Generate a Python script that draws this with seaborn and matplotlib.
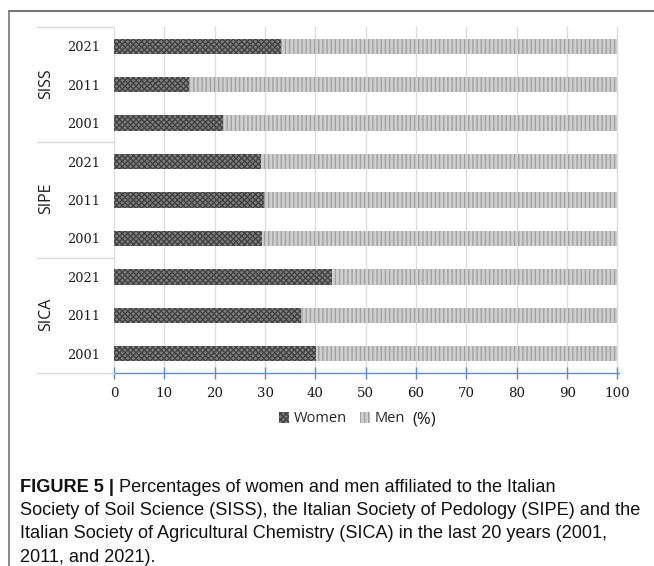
import matplotlib
matplotlib.use("Agg")
import matplotlib.pyplot as plt
import seaborn as sns
import pandas as pd
from matplotlib.lines import Line2D
from matplotlib.patches import Patch

# ---- data (top to bottom) ----
societies = ["SISS", "SISS", "SISS", "SIPE", "SIPE", "SIPE", "SICA", "SICA", "SICA"]
years = ["2021", "2011", "2001", "2021", "2011", "2001", "2021", "2011", "2001"]
women = [33.2, 14.9, 21.6, 29.1, 29.8, 29.4, 43.3, 37.2, 40.1]
men = [100 - w for w in women]
group_names = ["SISS", "SIPE", "SICA"]
xticks = [0, 10, 20, 30, 40, 50, 60, 70, 80, 90, 100]

keys = [f"{s} {y}" for s, y in zip(societies, years)]
df = pd.DataFrame({"key": keys, "year": years, "women": women, "men": men})
df["total"] = df["women"] + df["men"]

W, H = 654, 566
fig = plt.figure(figsize=(W / 100, H / 100), dpi=100)
sns.set_style("white")
plt.rcParams["hatch.linewidth"] = 1.0

ax = fig.add_axes([114 / W, 1 - 373 / H, 505 / W, 346 / H])

WOMEN_FACE, WOMEN_HATCH = "#808080", "#424242"
MEN_FACE, MEN_HATCH = "#d0d0d0", "#a0a0a0"

sns.barplot(data=df, y="key", x="total", order=keys, orient="h", ax=ax,
            color=MEN_FACE, width=0.4, saturation=1, edgecolor="none", errorbar=None)
sns.barplot(data=df, y="key", x="women", order=keys, orient="h", ax=ax,
            color=WOMEN_FACE, width=0.4, saturation=1, edgecolor="none", errorbar=None)

n = len(keys)
for i, p in enumerate(ax.patches):
    if i < n:
        p.set_hatch("||||")
        p.set_edgecolor(MEN_HATCH)
    else:
        p.set_hatch("xxxxxx")
        p.set_edgecolor(WOMEN_HATCH)
    p.set_linewidth(0)

ax.set_xlim(0, 100.3)
ax.set_ylim(n - 0.5, -0.5)
ax.set_xticks(xticks)
ax.set_xticklabels([str(t) for t in xticks], family="DejaVu Serif", fontsize=9.6, color="#1a1a1a")
ax.set_yticks(range(n))
ax.set_yticklabels(years, family="DejaVu Serif", fontsize=9.3, color="#1a1a1a")
ax.tick_params(axis="y", left=False, length=0, pad=10)
ax.tick_params(axis="x", bottom=True, length=8, direction="inout", color="#5b8fd0", width=1, pad=6)
ax.set_xlabel("")
ax.set_ylabel("")
for s in ["top", "right", "left"]:
    ax.spines[s].set_visible(False)
ax.spines["bottom"].set_color("#5b8fd0")
ax.spines["bottom"].set_linewidth(1)
ax.set_axisbelow(True)
ax.grid(axis="x", color="#dcdcdc", linewidth=1)
ax.grid(axis="y", visible=False)


def fx(px):
    return px / W


def fy(py):
    return 1 - py / H


# group separators and labels (left of axes)
for y in [27, 141.5, 257.5, 373]:
    fig.add_artist(Line2D([fx(37), fx(114)], [fy(y), fy(y)], color="#d9d9d9", lw=1))
group_centers = [84, 198, 314]
for g, yc in zip(group_names, group_centers):
    fig.text(fx(46), fy(yc), g, rotation=90, ha="center", va="center",
             fontsize=11.5, family="Open Sans", color="#1a1a1a")

# legend
handles = [Patch(facecolor=WOMEN_FACE, edgecolor=WOMEN_HATCH, hatch="xxxxxx", linewidth=0, label="Women"),
           Patch(facecolor=MEN_FACE, edgecolor=MEN_HATCH, hatch="||||", linewidth=0, label="Men")]
fig.legend(handles=handles, loc="center", bbox_to_anchor=(fx(342), fy(419)), ncol=2,
           frameon=False, handlelength=0.7, handleheight=0.7,
           handletextpad=0.3, columnspacing=0.9, prop={"family": "Open Sans", "size": 10.5})
fig.text(fx(424), fy(420), "(%)", ha="center", va="center", fontsize=12,
         family="Open Sans", color="#1a1a1a")

# frame
fig.add_artist(Line2D([fx(9), 1], [fy(11), fy(11)], color="#777777", lw=1.5))
fig.add_artist(Line2D([fx(9), fx(9)], [fy(11), 0], color="#777777", lw=1.2))

# caption
cap_font = "Liberation Sans"
cap_size = 13.1
lines = [
    "Society of Soil Science (SISS), the Italian Society of Pedology (SIPE) and the",
    "Italian Society of Agricultural Chemistry (SICA) in the last 20 years (2001,",
    "2011, and 2021).",
]
t1 = fig.text(fx(20), fy(487), "FIGURE 5 | ", ha="left", va="center", fontsize=cap_size,
              family=cap_font, weight="bold", color="#111111")
fig.canvas.draw()
bb = t1.get_window_extent()
fig.text(bb.x1 / W, fy(487), "Percentages of women and men affiliated to the Italian",
         ha="left", va="center", fontsize=cap_size, family=cap_font, color="#111111")
for i, l in enumerate(lines):
    fig.text(fx(20), fy(510.5 + 23.3 * i), l, ha="left", va="center", fontsize=cap_size,
             family=cap_font, color="#111111")

fig.savefig("out.png", dpi=100)
